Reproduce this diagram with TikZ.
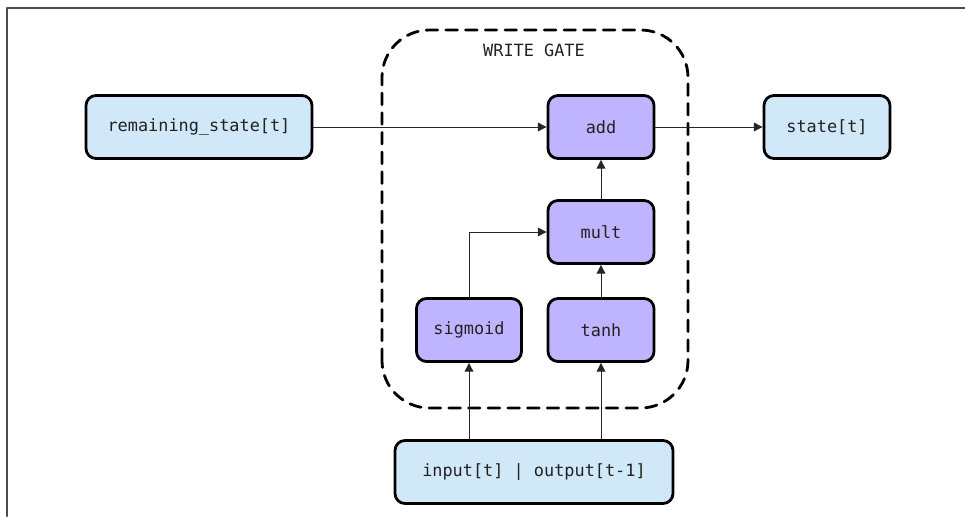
\documentclass[tikz,border=0pt]{standalone}
\usepackage{fontspec}
\setmonofont{DejaVu Sans Mono}
\usepackage{xcolor}
\usetikzlibrary{arrows.meta,positioning}
\definecolor{ioblue}{RGB}{208,232,248}
\definecolor{oppurple}{RGB}{190,180,255}
\definecolor{txt}{RGB}{34,34,34}

\begin{document}
\begin{tikzpicture}[x=1cm,y=1cm,line cap=round,line join=round,
  box/.style={draw=black,line width=1.6pt,rounded corners=.2cm,minimum height=1.26cm,
    inner sep=0pt,text=txt,font=\ttfamily\fontsize{9.6}{11}\selectfont},
  iobox/.style={box,fill=ioblue},
  opbox/.style={box,fill=oppurple,minimum width=2.12cm},
  flow/.style={draw=black!85,line width=.55pt,-{Triangle[length=5pt,width=5pt]}}]
\useasboundingbox (0,0) rectangle (19.3,10.32);
% frame of the figure
\draw[black!70,line width=1.2pt] (0.14,0)--(0.14,10.16)--(19.3,10.16);

% Gate outline.
\draw[line width=1.6pt,dash pattern=on 6.6pt off 4.6pt,rounded corners=.95cm]
  (7.64,2.16) rectangle (13.76,9.72);
\node[font=\ttfamily\fontsize{9.6}{11}\selectfont,text=txt] (gate) at (10.68,9.32) {WRITE GATE};

% Nodes.
\node[iobox,minimum width=4.52cm] (rstate) at (3.98,7.78) {remaining\_state[t]};
\node[opbox] (add) at (12.02,7.78) {add};
\node[iobox,minimum width=2.52cm] (state) at (16.54,7.78) {state[t]};
\node[opbox] (mult) at (12.02,5.68) {mult};
\node[opbox,minimum width=2.1cm] (sigm) at (9.38,3.72) {sigmoid};
\node[opbox] (tanh) at (12.02,3.72) {tanh};
\node[iobox,minimum width=5.56cm] (input) at (10.68,0.88) {input[t] | output[t-1]};

% Connectors.
\draw[flow] (rstate)--(add);
\draw[flow] (add)--(state);
\draw[flow] (mult)--(add);
\draw[flow] (tanh)--(mult);
\draw[flow] (sigm.north) |- (mult.west);
\draw[flow] (sigm.south |- input.north)--(sigm.south);
\draw[flow] (tanh.south |- input.north)--(tanh.south);
\end{tikzpicture}
\end{document}
